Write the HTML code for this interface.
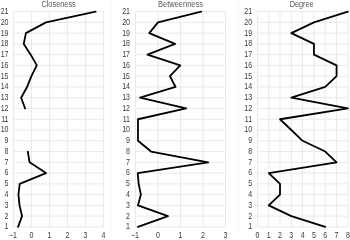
<!DOCTYPE html><html><head><meta charset="utf-8"><style>html,body{margin:0;padding:0;background:#fff;width:350px;height:240px;overflow:hidden}svg{display:block}text{font-family:"Liberation Sans",Arial,sans-serif;fill:#3a3a3a}</style></head><body>
<svg width="350" height="240" viewBox="0 0 350 240">
<path d="M111 0V232M238.5 0V234" stroke="#f6f6f6" stroke-width="1"/>
<path d="M13.40 11.60V226.90M31.40 11.60V226.90M49.40 11.60V226.90M67.40 11.60V226.90M85.40 11.60V226.90M103.40 11.60V226.90M13.40 226.90H103.40M13.40 216.13H103.40M13.40 205.37H103.40M13.40 194.61H103.40M13.40 183.84H103.40M13.40 173.07H103.40M13.40 162.31H103.40M13.40 151.55H103.40M13.40 140.78H103.40M13.40 130.01H103.40M13.40 119.25H103.40M13.40 108.48H103.40M13.40 97.72H103.40M13.40 86.96H103.40M13.40 76.19H103.40M13.40 65.42H103.40M13.40 54.66H103.40M13.40 43.90H103.40M13.40 33.13H103.40M13.40 22.36H103.40M13.40 11.60H103.40" stroke="#e9e9e9" stroke-width="1" fill="none"/>
<text transform="translate(58.60 6.50) scale(0.786 1)" font-size="9.40" text-anchor="middle" style="fill:#585858">Closeness</text>
<text transform="translate(8.50 229.30) scale(0.820 1)" font-size="8.60" text-anchor="end">1</text>
<text transform="translate(8.50 218.53) scale(0.820 1)" font-size="8.60" text-anchor="end">2</text>
<text transform="translate(8.50 207.77) scale(0.820 1)" font-size="8.60" text-anchor="end">3</text>
<text transform="translate(8.50 197.01) scale(0.820 1)" font-size="8.60" text-anchor="end">4</text>
<text transform="translate(8.50 186.24) scale(0.820 1)" font-size="8.60" text-anchor="end">5</text>
<text transform="translate(8.50 175.47) scale(0.820 1)" font-size="8.60" text-anchor="end">6</text>
<text transform="translate(8.50 164.71) scale(0.820 1)" font-size="8.60" text-anchor="end">7</text>
<text transform="translate(8.50 153.95) scale(0.820 1)" font-size="8.60" text-anchor="end">8</text>
<text transform="translate(8.50 143.18) scale(0.820 1)" font-size="8.60" text-anchor="end">9</text>
<text transform="translate(8.50 132.41) scale(0.820 1)" font-size="8.60" text-anchor="end">10</text>
<text transform="translate(8.50 121.65) scale(0.820 1)" font-size="8.60" text-anchor="end">11</text>
<text transform="translate(8.50 110.89) scale(0.820 1)" font-size="8.60" text-anchor="end">12</text>
<text transform="translate(8.50 100.12) scale(0.820 1)" font-size="8.60" text-anchor="end">13</text>
<text transform="translate(8.50 89.36) scale(0.820 1)" font-size="8.60" text-anchor="end">14</text>
<text transform="translate(8.50 78.59) scale(0.820 1)" font-size="8.60" text-anchor="end">15</text>
<text transform="translate(8.50 67.82) scale(0.820 1)" font-size="8.60" text-anchor="end">16</text>
<text transform="translate(8.50 57.06) scale(0.820 1)" font-size="8.60" text-anchor="end">17</text>
<text transform="translate(8.50 46.30) scale(0.820 1)" font-size="8.60" text-anchor="end">18</text>
<text transform="translate(8.50 35.53) scale(0.820 1)" font-size="8.60" text-anchor="end">19</text>
<text transform="translate(8.50 24.76) scale(0.820 1)" font-size="8.60" text-anchor="end">20</text>
<text transform="translate(8.50 14.00) scale(0.820 1)" font-size="8.60" text-anchor="end">21</text>
<text transform="translate(12.90 238.30) scale(0.820 1)" font-size="8.60" text-anchor="middle">−1</text>
<text transform="translate(31.40 238.30) scale(0.820 1)" font-size="8.60" text-anchor="middle">0</text>
<text transform="translate(49.40 238.30) scale(0.820 1)" font-size="8.60" text-anchor="middle">1</text>
<text transform="translate(67.40 238.30) scale(0.820 1)" font-size="8.60" text-anchor="middle">2</text>
<text transform="translate(85.40 238.30) scale(0.820 1)" font-size="8.60" text-anchor="middle">3</text>
<text transform="translate(103.40 238.30) scale(0.820 1)" font-size="8.60" text-anchor="middle">4</text>
<polyline points="18.08,226.90 22.04,216.13 19.52,205.37 18.44,194.61 19.70,183.84 45.98,173.07 29.60,162.31 27.80,151.55" fill="none" stroke="#000" stroke-width="1.80" stroke-linejoin="round" stroke-linecap="round"/>
<polyline points="25.10,108.48 21.14,97.72 27.08,86.96 31.40,76.19 36.80,65.42 30.68,54.66 23.75,43.90 25.91,33.13 45.98,22.36 95.66,11.60" fill="none" stroke="#000" stroke-width="1.80" stroke-linejoin="round" stroke-linecap="round"/>
<path d="M135.50 11.60V226.90M158.00 11.60V226.90M180.50 11.60V226.90M203.00 11.60V226.90M225.50 11.60V226.90M135.50 226.90H225.50M135.50 216.13H225.50M135.50 205.37H225.50M135.50 194.61H225.50M135.50 183.84H225.50M135.50 173.07H225.50M135.50 162.31H225.50M135.50 151.55H225.50M135.50 140.78H225.50M135.50 130.01H225.50M135.50 119.25H225.50M135.50 108.48H225.50M135.50 97.72H225.50M135.50 86.96H225.50M135.50 76.19H225.50M135.50 65.42H225.50M135.50 54.66H225.50M135.50 43.90H225.50M135.50 33.13H225.50M135.50 22.36H225.50M135.50 11.60H225.50" stroke="#e9e9e9" stroke-width="1" fill="none"/>
<text transform="translate(180.50 6.50) scale(0.799 1)" font-size="9.40" text-anchor="middle" style="fill:#585858">Betweenness</text>
<text transform="translate(130.00 229.30) scale(0.820 1)" font-size="8.60" text-anchor="end">1</text>
<text transform="translate(130.00 218.53) scale(0.820 1)" font-size="8.60" text-anchor="end">2</text>
<text transform="translate(130.00 207.77) scale(0.820 1)" font-size="8.60" text-anchor="end">3</text>
<text transform="translate(130.00 197.01) scale(0.820 1)" font-size="8.60" text-anchor="end">4</text>
<text transform="translate(130.00 186.24) scale(0.820 1)" font-size="8.60" text-anchor="end">5</text>
<text transform="translate(130.00 175.47) scale(0.820 1)" font-size="8.60" text-anchor="end">6</text>
<text transform="translate(130.00 164.71) scale(0.820 1)" font-size="8.60" text-anchor="end">7</text>
<text transform="translate(130.00 153.95) scale(0.820 1)" font-size="8.60" text-anchor="end">8</text>
<text transform="translate(130.00 143.18) scale(0.820 1)" font-size="8.60" text-anchor="end">9</text>
<text transform="translate(130.00 132.41) scale(0.820 1)" font-size="8.60" text-anchor="end">10</text>
<text transform="translate(130.00 121.65) scale(0.820 1)" font-size="8.60" text-anchor="end">11</text>
<text transform="translate(130.00 110.89) scale(0.820 1)" font-size="8.60" text-anchor="end">12</text>
<text transform="translate(130.00 100.12) scale(0.820 1)" font-size="8.60" text-anchor="end">13</text>
<text transform="translate(130.00 89.36) scale(0.820 1)" font-size="8.60" text-anchor="end">14</text>
<text transform="translate(130.00 78.59) scale(0.820 1)" font-size="8.60" text-anchor="end">15</text>
<text transform="translate(130.00 67.82) scale(0.820 1)" font-size="8.60" text-anchor="end">16</text>
<text transform="translate(130.00 57.06) scale(0.820 1)" font-size="8.60" text-anchor="end">17</text>
<text transform="translate(130.00 46.30) scale(0.820 1)" font-size="8.60" text-anchor="end">18</text>
<text transform="translate(130.00 35.53) scale(0.820 1)" font-size="8.60" text-anchor="end">19</text>
<text transform="translate(130.00 24.76) scale(0.820 1)" font-size="8.60" text-anchor="end">20</text>
<text transform="translate(130.00 14.00) scale(0.820 1)" font-size="8.60" text-anchor="end">21</text>
<text transform="translate(135.00 238.30) scale(0.820 1)" font-size="8.60" text-anchor="middle">−1</text>
<text transform="translate(158.00 238.30) scale(0.820 1)" font-size="8.60" text-anchor="middle">0</text>
<text transform="translate(180.50 238.30) scale(0.820 1)" font-size="8.60" text-anchor="middle">1</text>
<text transform="translate(203.00 238.30) scale(0.820 1)" font-size="8.60" text-anchor="middle">2</text>
<text transform="translate(225.50 238.30) scale(0.820 1)" font-size="8.60" text-anchor="middle">3</text>
<polyline points="137.97,226.90 168.01,216.13 137.97,205.37 140.90,194.61 138.65,183.84 137.75,173.07 208.18,162.31 151.03,151.55 137.97,140.78 137.97,130.01 137.97,119.25 186.12,108.48 140.00,97.72 175.55,86.96 169.93,76.19 180.28,65.42 147.43,54.66 175.10,43.90 149.22,33.13 158.00,22.36 201.20,11.60" fill="none" stroke="#000" stroke-width="1.80" stroke-linejoin="round" stroke-linecap="round"/>
<path d="M257.40 11.60V226.90M268.71 11.60V226.90M280.02 11.60V226.90M291.33 11.60V226.90M302.64 11.60V226.90M313.95 11.60V226.90M325.26 11.60V226.90M336.57 11.60V226.90M347.88 11.60V226.90M257.40 226.90H347.88M257.40 216.13H347.88M257.40 205.37H347.88M257.40 194.61H347.88M257.40 183.84H347.88M257.40 173.07H347.88M257.40 162.31H347.88M257.40 151.55H347.88M257.40 140.78H347.88M257.40 130.01H347.88M257.40 119.25H347.88M257.40 108.48H347.88M257.40 97.72H347.88M257.40 86.96H347.88M257.40 76.19H347.88M257.40 65.42H347.88M257.40 54.66H347.88M257.40 43.90H347.88M257.40 33.13H347.88M257.40 22.36H347.88M257.40 11.60H347.88" stroke="#e9e9e9" stroke-width="1" fill="none"/>
<text transform="translate(301.70 6.50) scale(0.778 1)" font-size="9.40" text-anchor="middle" style="fill:#585858">Degree</text>
<text transform="translate(252.10 229.30) scale(0.820 1)" font-size="8.60" text-anchor="end">1</text>
<text transform="translate(252.10 218.53) scale(0.820 1)" font-size="8.60" text-anchor="end">2</text>
<text transform="translate(252.10 207.77) scale(0.820 1)" font-size="8.60" text-anchor="end">3</text>
<text transform="translate(252.10 197.01) scale(0.820 1)" font-size="8.60" text-anchor="end">4</text>
<text transform="translate(252.10 186.24) scale(0.820 1)" font-size="8.60" text-anchor="end">5</text>
<text transform="translate(252.10 175.47) scale(0.820 1)" font-size="8.60" text-anchor="end">6</text>
<text transform="translate(252.10 164.71) scale(0.820 1)" font-size="8.60" text-anchor="end">7</text>
<text transform="translate(252.10 153.95) scale(0.820 1)" font-size="8.60" text-anchor="end">8</text>
<text transform="translate(252.10 143.18) scale(0.820 1)" font-size="8.60" text-anchor="end">9</text>
<text transform="translate(252.10 132.41) scale(0.820 1)" font-size="8.60" text-anchor="end">10</text>
<text transform="translate(252.10 121.65) scale(0.820 1)" font-size="8.60" text-anchor="end">11</text>
<text transform="translate(252.10 110.89) scale(0.820 1)" font-size="8.60" text-anchor="end">12</text>
<text transform="translate(252.10 100.12) scale(0.820 1)" font-size="8.60" text-anchor="end">13</text>
<text transform="translate(252.10 89.36) scale(0.820 1)" font-size="8.60" text-anchor="end">14</text>
<text transform="translate(252.10 78.59) scale(0.820 1)" font-size="8.60" text-anchor="end">15</text>
<text transform="translate(252.10 67.82) scale(0.820 1)" font-size="8.60" text-anchor="end">16</text>
<text transform="translate(252.10 57.06) scale(0.820 1)" font-size="8.60" text-anchor="end">17</text>
<text transform="translate(252.10 46.30) scale(0.820 1)" font-size="8.60" text-anchor="end">18</text>
<text transform="translate(252.10 35.53) scale(0.820 1)" font-size="8.60" text-anchor="end">19</text>
<text transform="translate(252.10 24.76) scale(0.820 1)" font-size="8.60" text-anchor="end">20</text>
<text transform="translate(252.10 14.00) scale(0.820 1)" font-size="8.60" text-anchor="end">21</text>
<text transform="translate(257.40 238.30) scale(0.820 1)" font-size="8.60" text-anchor="middle">0</text>
<text transform="translate(268.71 238.30) scale(0.820 1)" font-size="8.60" text-anchor="middle">1</text>
<text transform="translate(280.02 238.30) scale(0.820 1)" font-size="8.60" text-anchor="middle">2</text>
<text transform="translate(291.33 238.30) scale(0.820 1)" font-size="8.60" text-anchor="middle">3</text>
<text transform="translate(302.64 238.30) scale(0.820 1)" font-size="8.60" text-anchor="middle">4</text>
<text transform="translate(313.95 238.30) scale(0.820 1)" font-size="8.60" text-anchor="middle">5</text>
<text transform="translate(325.26 238.30) scale(0.820 1)" font-size="8.60" text-anchor="middle">6</text>
<text transform="translate(336.57 238.30) scale(0.820 1)" font-size="8.60" text-anchor="middle">7</text>
<text transform="translate(347.88 238.30) scale(0.820 1)" font-size="8.60" text-anchor="middle">8</text>
<polyline points="325.26,226.90 291.33,216.13 268.71,205.37 280.02,194.61 280.02,183.84 268.71,173.07 336.57,162.31 325.26,151.55 302.64,140.78 291.33,130.01 280.02,119.25 347.88,108.48 291.33,97.72 325.26,86.96 336.57,76.19 336.57,65.42 313.95,54.66 313.95,43.90 291.33,33.13 313.95,22.36 347.88,11.60" fill="none" stroke="#000" stroke-width="1.80" stroke-linejoin="round" stroke-linecap="round"/>
</svg></body></html>
